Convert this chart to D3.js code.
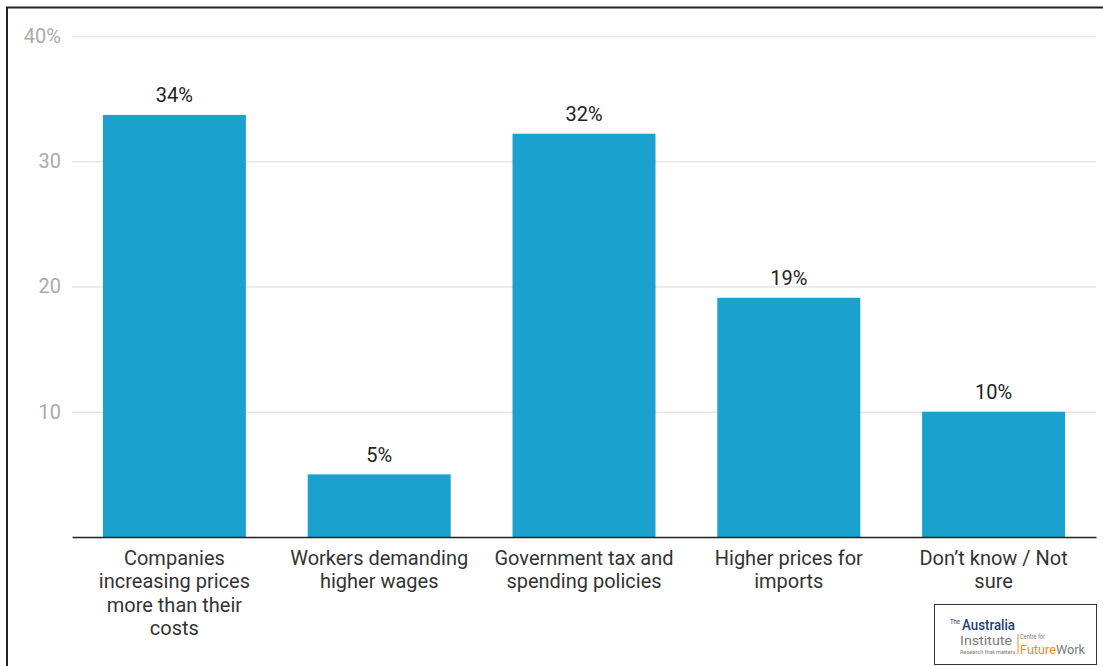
<!DOCTYPE html>
<html>
<head>
<meta charset="utf-8">
<script src="https://cdn.jsdelivr.net/npm/d3@7"></script>
<style>
  html, body { margin: 0; padding: 0; background: #fff; }
  svg { display: block; font-family: Roboto, "Noto Sans", sans-serif; }
</style>
</head>
<body>
<svg id="chart" width="1103" height="666"></svg>
<script>
// Survey: what is driving inflation?
const categories = [
  ["Companies", "increasing prices", "more than their", "costs"],
  ["Workers demanding", "higher wages"],
  ["Government tax and", "spending policies"],
  ["Higher prices for", "imports"],
  ["Don\u2019t know / Not", "sure"]
];
const values = [33.7, 5, 32.2, 19.1, 10];
const tickValues = [10, 20, 30, 40];
const tickLabels = ["10", "20", "30", "40%"];

const svg = d3.select("#chart");
const W = 1103, H = 666;
const m = { left: 72, right: 7, top: 36, bottom: 129 };

const x = d3.scaleBand()
  .domain(d3.range(values.length))
  .range([m.left, W - m.right])
  .paddingInner(0.302)
  .paddingOuter(0.151);

const y = d3.scaleLinear()
  .domain([0, 40])
  .range([H - m.bottom, m.top]);

// Frame (top and left edges)
svg.append("path")
  .attr("d", `M7,${H} V7.5 H${W}`)
  .attr("fill", "none")
  .attr("stroke", "#222")
  .attr("stroke-width", 2);

// Gridlines and tick labels
const yAxis = d3.axisLeft(y)
  .tickValues(tickValues)
  .tickSize(-(W - m.right - m.left))
  .tickPadding(11)
  .tickFormat((d, i) => tickLabels[i]);

const gy = svg.append("g")
  .attr("transform", `translate(${m.left},0)`)
  .call(yAxis);
gy.select(".domain").remove();
gy.selectAll(".tick line").attr("stroke", "#e6e6e6").attr("stroke-width", 1.5);
gy.selectAll(".tick text")
  .attr("fill", "#aaaaaa")
  .attr("font-size", 20)
  .attr("font-family", "Roboto, sans-serif");

// Bars
svg.append("g")
  .selectAll("rect")
  .data(values)
  .join("rect")
  .attr("x", (d, i) => x(i))
  .attr("y", d => y(d))
  .attr("width", x.bandwidth())
  .attr("height", d => y(0) - y(d))
  .attr("fill", "#1aa1cd");

// Value labels
svg.append("g")
  .selectAll("text")
  .data(values)
  .join("text")
  .attr("x", (d, i) => x(i) + x.bandwidth() / 2)
  .attr("y", d => y(d) - 12.5)
  .attr("text-anchor", "middle")
  .attr("font-size", 20)
  .attr("fill", "#222")
  .text(d => d3.format(".0f")(d) + "%");

// Baseline / category axis
const xAxis = d3.axisBottom(x).tickSize(0).tickFormat("");
const gx = svg.append("g")
  .attr("transform", `translate(0,${y(0)})`)
  .call(xAxis);
gx.select(".domain").attr("stroke", "#222").attr("stroke-width", 1.5);

// Category labels (multi-line)
const cat = svg.append("g")
  .selectAll("text")
  .data(categories)
  .join("text")
  .attr("x", (d, i) => x(i) + x.bandwidth() / 2)
  .attr("y", y(0) + 27.5)
  .attr("text-anchor", "middle")
  .attr("font-size", 20)
  .attr("fill", "#333");
cat.selectAll("tspan")
  .data(d => d)
  .join("tspan")
  .attr("x", function () { return d3.select(this.parentNode).attr("x"); })
  .attr("dy", (d, i) => i === 0 ? 0 : 23.6)
  .text(d => d);

// Publisher logo
const logo = svg.append("g").attr("transform", "translate(934,604)");
logo.append("rect")
  .attr("x", 0.5).attr("y", 0.5)
  .attr("width", 162).attr("height", 60)
  .attr("fill", "#fff")
  .attr("stroke", "#333")
  .attr("stroke-width", 1);
function logoText(tx, ty, size, fill, len, str, weight) {
  return logo.append("text")
    .attr("x", tx).attr("y", ty)
    .attr("font-size", size)
    .attr("font-weight", weight || 400)
    .attr("fill", fill)
    .attr("textLength", len)
    .attr("lengthAdjust", "spacingAndGlyphs")
    .text(str);
}
logoText(16, 19.5, 6.5, "#1f3b73", 10, "The");
logoText(28, 25.5, 14.5, "#1f3b73", 53, "Australia", 500);
logoText(26, 41, 13, "#7a7a7a", 52, "Institute");
logoText(26, 49.5, 5.2, "#7a7a7a", 57, "Research that matters.");
logo.append("line")
  .attr("x1", 84).attr("x2", 84)
  .attr("y1", 30).attr("y2", 50)
  .attr("stroke", "#f08a24").attr("stroke-width", 1);
logoText(86, 35, 6.5, "#7a7a7a", 25, "Centre for");
const fw = logo.append("text")
  .attr("x", 86).attr("y", 50)
  .attr("font-size", 13)
  .attr("textLength", 65)
  .attr("lengthAdjust", "spacingAndGlyphs");
fw.append("tspan").attr("fill", "#f08a24").text("Future");
fw.append("tspan").attr("fill", "#7a7a7a").text("Work");
</script>
</body>
</html>
